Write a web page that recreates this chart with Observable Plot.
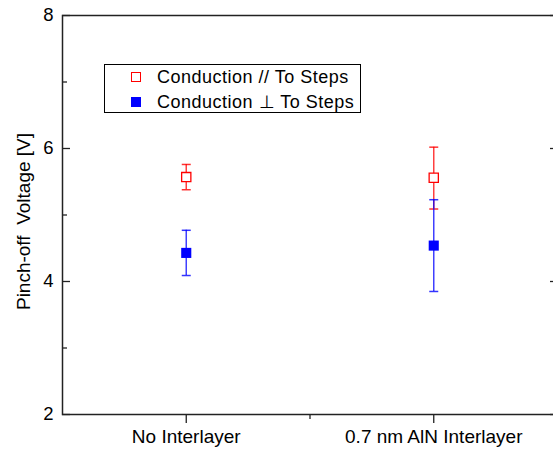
<!DOCTYPE html>
<html><head><meta charset="utf-8">
<script src="https://cdn.jsdelivr.net/npm/d3@7"></script>
<script src="https://cdn.jsdelivr.net/npm/@observablehq/plot@0.6"></script>
<style>
html,body{margin:0;padding:0;background:#fff;overflow:hidden;}
#wrap{position:relative;width:553px;height:449px;overflow:hidden;font-family:Arial,"Liberation Sans",sans-serif;}
#wrap svg{display:block;max-width:none !important;width:557px;height:449px;}
.legend{position:absolute;left:104px;top:64px;width:257px;height:49px;border:1px solid #000;box-sizing:border-box;background:#fff;font-size:18px;letter-spacing:0.5px;color:#000;}
.row{position:absolute;left:0;height:20px;line-height:20px;white-space:pre;}
.row .mk{position:absolute;left:26px;top:5px;box-sizing:border-box;}
.row .lb{position:absolute;left:52px;top:0;}
</style>
</head><body>
<div id="wrap"></div>
<script>
const categories = ["No Interlayer", "0.7 nm AlN Interlayer"];
const catPositions = [1, 2];
const seriesNames = ["Conduction // To Steps", "Conduction \u22A5 To Steps"];
const seriesColors = ["#ff0000", "#0000ff"];
const parallelValue = [5.57, 5.56];
const parallelLow = [5.38, 5.09];
const parallelHigh = [5.76, 6.02];
const perpValue = [4.43, 4.54];
const perpLow = [4.09, 3.85];
const perpHigh = [4.77, 5.23];
const yMajorTicks = [2, 4, 6, 8];
const yMinorTicks = [3, 5, 7];
const xMinorTicks = [1.5];
const yTitle = "Pinch-off  Voltage [V]";

const parallel = catPositions.map((p, i) => ({x: p, v: parallelValue[i], lo: parallelLow[i], hi: parallelHigh[i]}));
const perp = catPositions.map((p, i) => ({x: p, v: perpValue[i], lo: perpLow[i], hi: perpHigh[i]}));

const capSymbol = {draw(ctx, size) { const r = Math.sqrt(size / Math.PI); ctx.moveTo(-r, 0); ctx.lineTo(r, 0); }};
const axisColor = "#222";
const fnt = "Arial, 'Liberation Sans', sans-serif";

function errorMarks(data, color) {
  return [
    Plot.ruleX(data, {x: "x", y1: "lo", y2: "hi", stroke: color, strokeWidth: 1.5, strokeOpacity: 0.75}),
    Plot.dot(data, {x: "x", y: "lo", symbol: capSymbol, r: 4.5, fill: "none", stroke: color, strokeWidth: 1.5, strokeOpacity: 0.8}),
    Plot.dot(data, {x: "x", y: "hi", symbol: capSymbol, r: 4.5, fill: "none", stroke: color, strokeWidth: 1.5, strokeOpacity: 0.8})
  ];
}

const chart = Plot.plot({
  width: 557, height: 449,
  marginLeft: 62, marginRight: 0, marginTop: 15, marginBottom: 35,
  style: {fontFamily: fnt, fontSize: "18px", color: "#000", background: "white", maxWidth: "none"},
  x: {domain: [0.5, 2.5], label: null},
  y: {domain: [2, 8], label: null},
  marks: [
    Plot.axisY(yMajorTicks, {anchor: "left", tickSize: 0, tickPadding: 9, fontSize: 18.5, tickFormat: d => String(d), label: null}),
    Plot.axisY(yMajorTicks, {anchor: "left", tickSize: -8, tickFormat: () => "", label: null, stroke: axisColor, strokeWidth: 1.3}),
    Plot.axisY(yMinorTicks, {anchor: "left", tickSize: -5, tickFormat: () => "", label: null, stroke: axisColor, strokeWidth: 1.3}),
    Plot.axisY(yMajorTicks, {anchor: "right", tickSize: -8, tickFormat: () => "", label: null, stroke: axisColor, strokeWidth: 1.3}),
    Plot.axisY(yMinorTicks, {anchor: "right", tickSize: -5, tickFormat: () => "", label: null, stroke: axisColor, strokeWidth: 1.3}),
    Plot.axisX(catPositions, {anchor: "bottom", tickSize: 9, tickPadding: 6, fontSize: 19, tickFormat: d => categories[catPositions.indexOf(d)], label: null, stroke: axisColor, strokeWidth: 1.3}),
    Plot.axisX(xMinorTicks, {anchor: "bottom", tickSize: 5, tickFormat: () => "", label: null, stroke: axisColor, strokeWidth: 1.3}),
    Plot.frame({stroke: axisColor, strokeWidth: 1.5}),
    Plot.text([yTitle], {frameAnchor: "left", dx: -39, dy: 6.5, rotate: -90, textAnchor: "middle", lineAnchor: "middle", fontSize: 19, fill: "#000", ariaLabel: "ytitle"}),
    ...errorMarks(parallel, seriesColors[0]),
    ...errorMarks(perp, seriesColors[1]),
    Plot.dot(parallel, {x: "x", y: "v", symbol: "square", r: 5.2, fill: "white", stroke: seriesColors[0], strokeWidth: 1.3}),
    Plot.dot(perp, {x: "x", y: "v", symbol: "square", r: 5.7, fill: seriesColors[1], stroke: "none"})
  ]
});
chart.querySelectorAll('g[aria-label="ytitle"] text').forEach(t => t.setAttribute("letter-spacing", "0.5"));
const wrap = document.getElementById("wrap");
wrap.appendChild(chart);

const legend = document.createElement("div");
legend.className = "legend";
seriesNames.forEach((name, i) => {
  const row = document.createElement("div");
  row.className = "row";
  row.style.top = (i === 0 ? 2 : 27) + "px";
  const mk = document.createElement("span");
  mk.className = "mk";
  if (i === 0) { mk.style.width = "10px"; mk.style.height = "10px"; mk.style.border = "1.3px solid " + seriesColors[0]; mk.style.background = "#fff"; }
  else { mk.style.width = "10px"; mk.style.height = "10px"; mk.style.background = seriesColors[1]; }
  const lb = document.createElement("span");
  lb.className = "lb";
  lb.textContent = name;
  row.appendChild(mk); row.appendChild(lb);
  legend.appendChild(row);
});
wrap.appendChild(legend);
</script>
</body></html>
